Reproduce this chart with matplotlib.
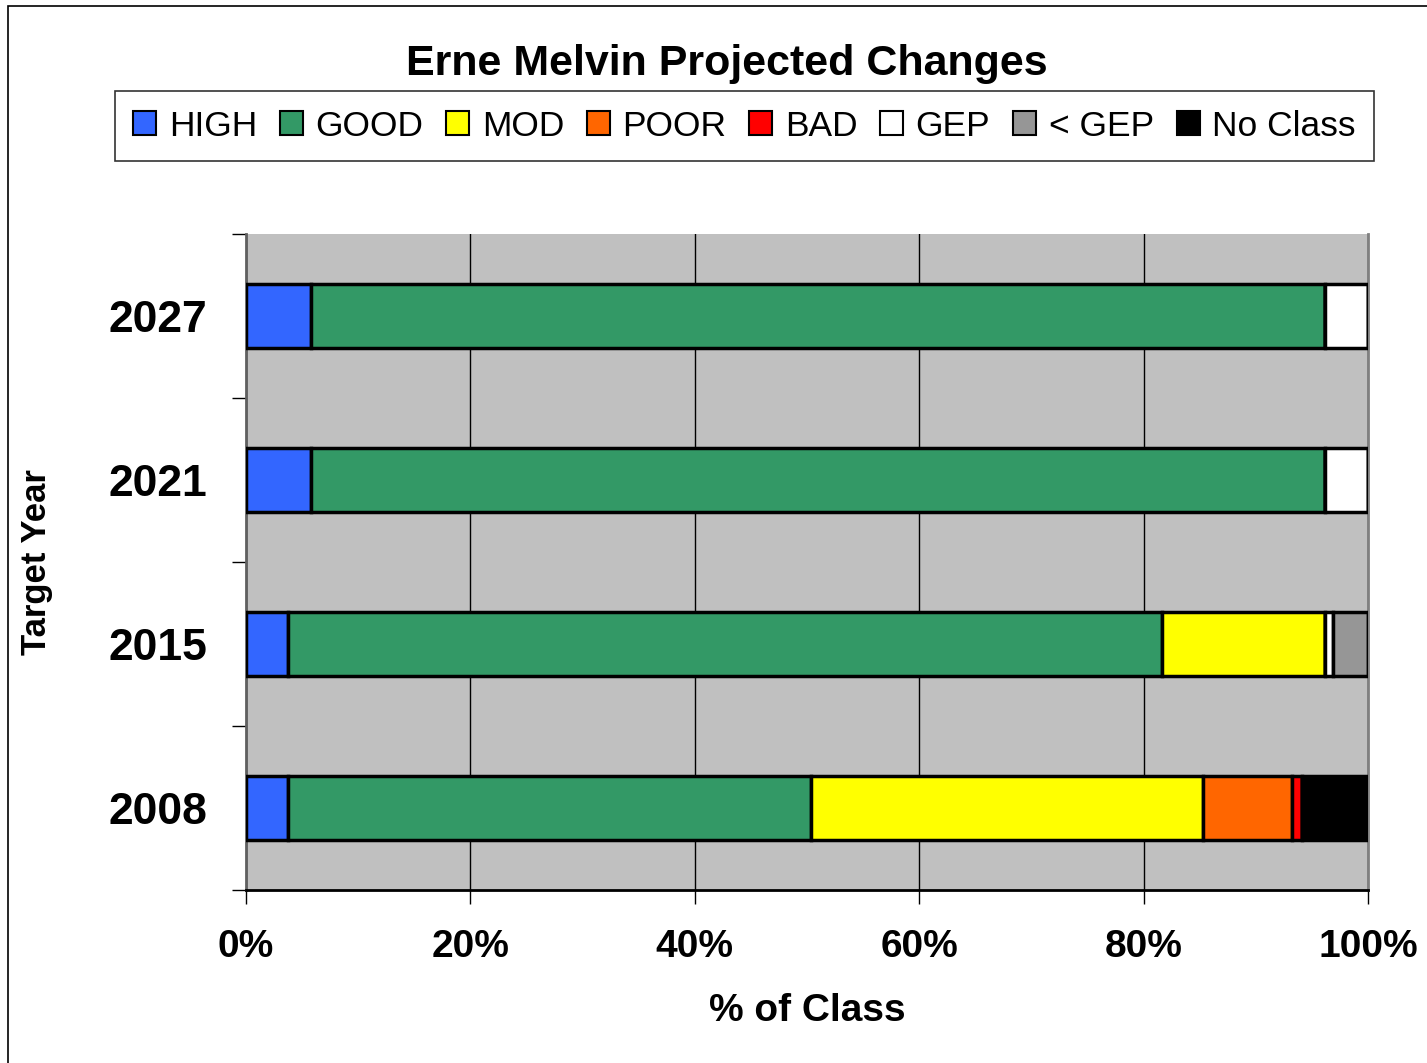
import matplotlib
matplotlib.use("Agg")
import matplotlib.pyplot as plt
from matplotlib.patches import Rectangle, Patch
import numpy as np

plt.rcParams['font.family'] = ['Liberation Sans', 'DejaVu Sans']

years = ["2008", "2015", "2021", "2027"]
classes = ["HIGH", "GOOD", "MOD", "POOR", "BAD", "GEP", "< GEP", "No Class"]
colors = ["#3366FF", "#339966", "#FFFF00", "#FF6600", "#FF0000", "#FFFFFF", "#969696", "#000000"]

high    = [3.7, 3.7, 5.8, 5.8]
good    = [46.7, 77.9, 90.4, 90.4]
mod     = [34.9, 14.6, 0.0, 0.0]
poor    = [7.9, 0.0, 0.0, 0.0]
bad     = [0.9, 0.0, 0.0, 0.0]
gep     = [0.0, 0.7, 3.8, 3.8]
lt_gep  = [0.0, 3.1, 0.0, 0.0]
noclass = [5.9, 0.0, 0.0, 0.0]
series = [high, good, mod, poor, bad, gep, lt_gep, noclass]

W, H = 1427, 1063
fig = plt.figure(figsize=(W/100, H/100), dpi=100)
ax = fig.add_axes([246/W, 1-890/H, (1368-246)/W, (890-234)/H])
ax.set_facecolor("#C0C0C0")

y = np.arange(len(years))
left = np.zeros(len(years))
for name, vals, c in zip(classes, series, colors):
    vals = np.array(vals, dtype=float)
    ax.barh(y, vals, left=left, height=0.39, color=c, edgecolor="black",
            linewidth=2.5, label=name, zorder=3)
    left += vals

ax.set_xlim(0, 100)
ax.set_ylim(-0.5, len(years)-0.5)
ax.set_xticks(np.arange(0, 101, 20))
ax.set_xticklabels([f"{v}%" for v in range(0, 101, 20)], fontsize=28, fontweight="bold")
ax.set_yticks(y)
ax.set_yticklabels(years, fontsize=32, fontweight="bold")
ax.set_yticks(np.arange(-0.5, len(years), 1.0), minor=True)
ax.tick_params(axis="y", which="major", length=0, pad=28)
ax.tick_params(axis="y", which="minor", length=10, direction="out", width=1)
ax.tick_params(axis="x", which="major", length=10, direction="out", width=1, pad=18)
ax.xaxis.grid(True, color="black", linewidth=1, zorder=1)
ax.set_axisbelow(True)
ax.spines["top"].set_visible(False)
ax.spines["right"].set_color("#808080")
ax.spines["right"].set_linewidth(2)
ax.spines["left"].set_color("#606060")
ax.spines["left"].set_linewidth(2)
ax.spines["bottom"].set_linewidth(2)

ax.set_xlabel("% of Class", fontsize=28, fontweight="bold", labelpad=20)
ax.set_ylabel("Target Year", fontsize=25, fontweight="bold", labelpad=40)

fig.text(727/W, 1-64/H, "Erne Melvin Projected Changes", ha="center", va="center",
         fontsize=31, fontweight="bold")

handles = [Patch(facecolor=c, edgecolor="black", linewidth=1.5) for c in colors]
leg = fig.legend(handles, classes, loc="lower left",
                 bbox_to_anchor=(115/W, 1-161/H, (1374-115)/W, 72/H),
                 mode="expand", ncol=8, fontsize=25.5, frameon=True, fancybox=False,
                 edgecolor="black", handlelength=0.65, handleheight=0.65,
                 handletextpad=0.35, columnspacing=1.0, borderaxespad=0,
                 borderpad=0.52)
leg.get_frame().set_linewidth(1.2)

fig.patches.append(Rectangle((8/W, -0.1), 1.2, 1 - 6/H + 0.1, transform=fig.transFigure,
                             fill=False, edgecolor="black", linewidth=1.2))

fig.savefig("out.png", dpi=100)
